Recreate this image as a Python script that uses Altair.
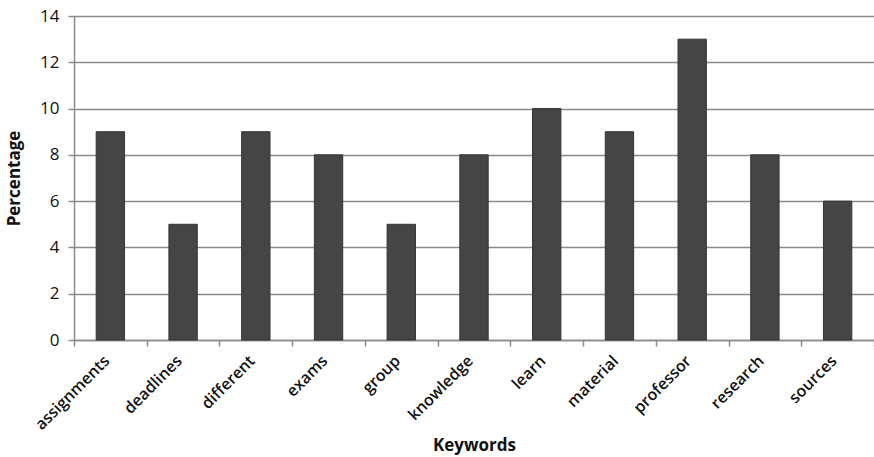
import altair as alt
import pandas as pd

keywords = ["assignments", "deadlines", "different", "exams", "group", "knowledge",
            "learn", "material", "professor", "research", "sources"]
percentages = [9, 5, 9, 8, 5, 8, 10, 9, 13, 8, 6]

df = pd.DataFrame({"Keywords": keywords, "Percentage": percentages})

FONT = "Open Sans"
GRID = "#8a8a8a"
TEXT = "#111111"

chart = alt.Chart(df).mark_bar(color="#454545", stroke="#353535", strokeWidth=1,
                                width=alt.RelativeBandSize(0.39)).encode(
    x=alt.X("Keywords:N", sort=keywords,
            scale=alt.Scale(paddingInner=0, paddingOuter=0),
            axis=alt.Axis(title="Keywords", labelAngle=-45, labelAlign="right",
                          labelBaseline="middle", labelFontSize=16, labelFont=FONT,
                          labelFontWeight=600,
                          labelColor=TEXT, labelPadding=12, labelOffset=-4,
                          titleFont=FONT, titleFontSize=17, titleFontWeight="bold",
                          titleColor=TEXT, titlePadding=5,
                          tickBand="extent", tickColor=GRID, tickSize=6, tickWidth=1.5,
                          domainColor=GRID, domainWidth=1.5, grid=False)),
    y=alt.Y("Percentage:Q", scale=alt.Scale(domain=[0, 14]),
            axis=alt.Axis(title="Percentage", values=[0, 2, 4, 6, 8, 10, 12, 14],
                          labelFontSize=17, labelFont=FONT, labelColor=TEXT,
                          labelPadding=9,
                          titleFont=FONT, titleFontSize=17, titleFontWeight="bold",
                          titleColor=TEXT, titlePadding=16,
                          grid=True, gridColor=GRID, gridWidth=1.5,
                          tickColor=GRID, tickSize=6, tickWidth=1.5,
                          domainColor=GRID, domainWidth=1.5)),
).properties(
    width=800, height=324,
    autosize=alt.AutoSizeParams(type="none"),
    padding={"left": 74, "top": 16, "right": 0, "bottom": 117},
).configure_view(stroke=None).configure(background="white")

chart.save("out.html", embed_options={"renderer": "svg", "actions": False})
